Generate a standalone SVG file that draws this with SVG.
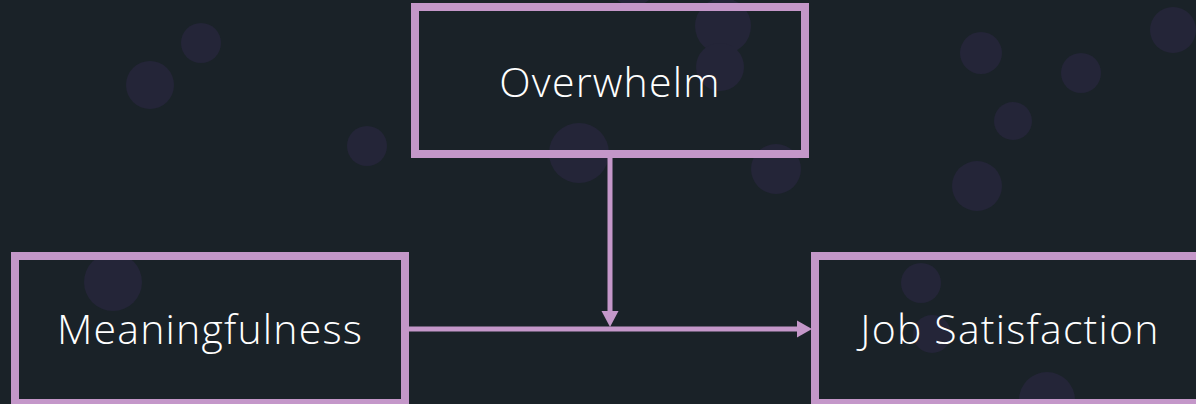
<svg xmlns="http://www.w3.org/2000/svg" width="1196" height="404" viewBox="0 0 1196 404">
<style>
.bg{fill:#1a2228}
.dot{fill:#242538}
.box{fill:none;stroke:#c497c9;stroke-width:8}
.lbl{font-family:"Open Sans","Noto Sans",sans-serif;font-weight:300;font-size:41px;letter-spacing:1.2px;fill:#ffffff;text-anchor:middle}
.conn{stroke:#c497c9;stroke-width:5;fill:none}
.head{fill:#c497c9}
</style>
<rect class="bg" x="0" y="0" width="1196" height="404"/>
<g id="background-dots">
<circle class="dot" cx="201" cy="43" r="20"/>
<circle class="dot" cx="150" cy="85" r="24"/>
<circle class="dot" cx="367" cy="146" r="20"/>
<circle class="dot" cx="633" cy="-18" r="24"/>
<circle class="dot" cx="723" cy="26" r="28"/>
<circle class="dot" cx="720" cy="67" r="24"/>
<circle class="dot" cx="579" cy="153" r="30"/>
<circle class="dot" cx="776" cy="169" r="25"/>
<circle class="dot" cx="981" cy="53" r="21"/>
<circle class="dot" cx="1081" cy="73" r="20"/>
<circle class="dot" cx="1173" cy="30" r="23"/>
<circle class="dot" cx="1013" cy="121" r="19"/>
<circle class="dot" cx="977" cy="186" r="25"/>
<circle class="dot" cx="113" cy="282" r="29"/>
<circle class="dot" cx="921" cy="283" r="20"/>
<circle class="dot" cx="932" cy="334" r="19"/>
<circle class="dot" cx="1047" cy="400" r="28"/>
</g>
<g id="connectors">
<line class="conn" x1="610" y1="158" x2="610" y2="314"/>
<polygon class="head" points="601.5,311 618.5,311 610,327"/>
<line class="conn" x1="409" y1="329" x2="799" y2="329"/>
<polygon class="head" points="797,320.5 797,337.5 812,329"/>
</g>
<g id="node-overwhelm">
<rect class="box" x="415" y="7" width="390" height="147"/>
<text class="lbl" x="610" y="97">Overwhelm</text>
</g>
<g id="node-meaningfulness">
<rect class="box" x="15" y="256" width="390" height="147"/>
<text class="lbl" x="210" y="344">Meaningfulness</text>
</g>
<g id="node-job-satisfaction">
<rect class="box" x="815" y="256" width="390" height="147"/>
<text class="lbl" x="1010" y="344">Job Satisfaction</text>
</g>
</svg>
